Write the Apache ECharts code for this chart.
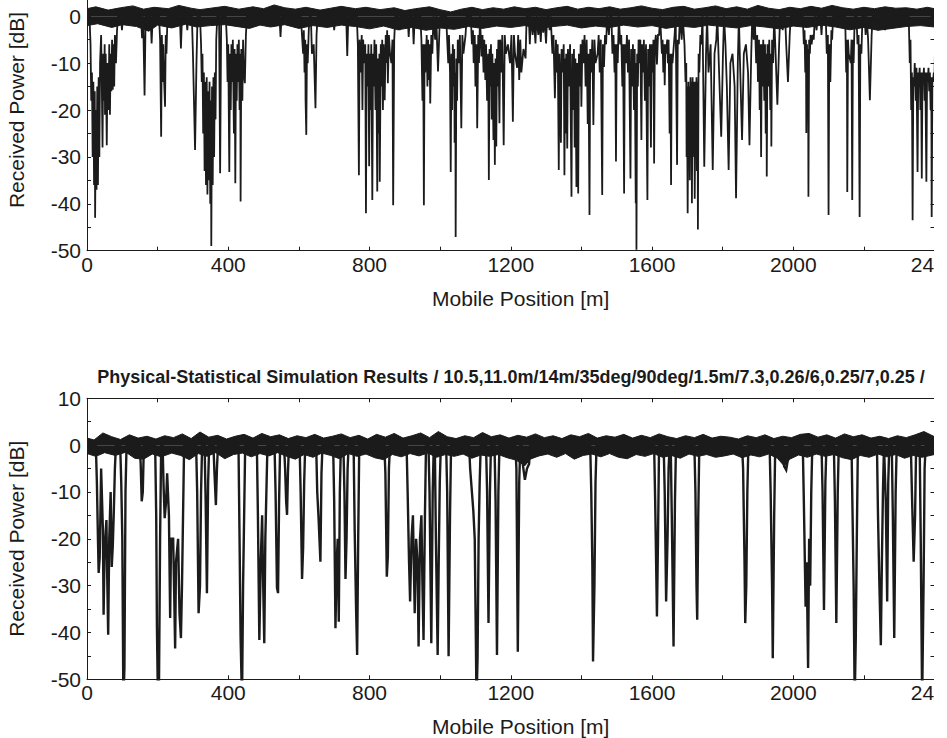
<!DOCTYPE html>
<html><head><meta charset="utf-8">
<script src="https://cdn.jsdelivr.net/npm/echarts@6/dist/echarts.min.js"></script>
<style>html,body{margin:0;padding:0;background:#fff}#c{width:947px;height:738px}</style>
</head><body><div id="c"></div>
<script>
// ---- text / ticks ----
const titleText = 'Physical-Statistical Simulation Results / 10.5,11.0m/14m/35deg/90deg/1.5m/7.3,0.26/6,0.25/7,0.25 /';
const xName = 'Mobile Position [m]';
const yName = 'Received Power [dB]';
const xLabelTicks = [0, 400, 800, 1200, 1600, 2000];
const xEdgeTick = 2400;          // shown cut short as "24", as in the reference
const xEdgeText = '24';
const yLabelTicksTop = [-50, -40, -30, -20, -10, 0];
const yLabelTicksBottom = [-50, -40, -30, -20, -10, 0, 10];

// ---- top panel (measured): band envelope and fades [position m, level dB] ----
const measBandTop = [[0,1.6],[25,2.0],[60,1.3],[95,1.8],[130,2.2],[160,1.5],[190,1.9],[230,1.6],[260,2.3],[295,1.7],[320,1.4],[370,1.9],[390,2.1],[430,1.5],[470,2.0],[500,1.6],[530,2.4],[560,1.8],[590,1.5],[620,1.9],[660,1.3],[690,1.7],[720,2.1],[760,1.6],[790,1.9],[830,1.4],[870,1.8],[900,1.2],[930,1.6],[970,2.0],[1000,1.4],[1030,0.9],[1060,1.5],[1090,1.9],[1120,1.4],[1150,1.8],[1180,1.5],[1210,2.0],[1240,1.6],[1270,1.9],[1300,1.4],[1330,1.8],[1360,2.1],[1390,1.5],[1420,1.9],[1450,1.6],[1480,2.0],[1510,1.5],[1540,1.8],[1570,2.2],[1600,1.7],[1630,1.4],[1660,1.9],[1690,2.1],[1720,1.5],[1750,1.8],[1780,2.2],[1810,1.6],[1840,2.0],[1870,1.5],[1900,2.3],[1930,1.7],[1960,1.4],[1990,1.9],[2020,1.6],[2050,2.1],[2080,1.7],[2110,2.3],[2140,1.8],[2170,1.5],[2200,1.9],[2230,1.6],[2260,2.0],[2290,1.7],[2320,1.8],[2350,1.5],[2380,1.9],[2400,1.6]];
const measBandBot = [[0,-2.0],[30,-1.6],[70,-2.4],[100,-1.8],[140,-2.2],[175,-3.2],[200,-1.9],[240,-2.5],[280,-1.7],[310,-2.3],[350,-2.0],[390,-1.8],[460,-2.6],[490,-1.9],[520,-2.3],[560,-1.8],[600,-2.6],[640,-2.0],[680,-2.4],[720,-1.9],[760,-2.2],[800,-2.7],[840,-2.1],[880,-2.9],[920,-2.4],[960,-3.0],[1000,-2.5],[1040,-2.8],[1080,-2.2],[1120,-2.6],[1160,-2.1],[1200,-2.4],[1240,-2.0],[1280,-2.6],[1320,-2.2],[1360,-1.9],[1400,-2.5],[1440,-2.1],[1480,-2.4],[1520,-1.9],[1560,-2.3],[1600,-2.0],[1640,-2.6],[1680,-2.1],[1720,-2.4],[1760,-1.9],[1800,-2.2],[1840,-2.5],[1880,-2.0],[1920,-2.3],[1960,-2.7],[2000,-2.1],[2040,-2.4],[2080,-1.9],[2120,-2.3],[2160,-2.9],[2200,-2.4],[2240,-3.0],[2280,-2.6],[2320,-2.2],[2360,-2.0],[2400,-2.3]];
const measFades = [
[10,-6],[12,-18],[14,-12],[16,-30],[18,-14],[20,-36],[22,-16],[23,-43],[25,-20],[27,-37],[29,-15],[31,-36],[33,-13],[35,-30],[37,-10],
[40,-4],[42,-15],[44,-28],[46,-8],[48,-18],[50,-6],[51,-21],[53,-8],[56,-27.5],[58,-10],[61,-20],[63,-6],[65,-21],[67,-8],[69,-16],[71,-5],[73,-15.7],[75,-6],[77,-15],[79,-4],[82,-10],[85,-3],
[99,-3],[156,-4.7],[163,-16.9],[183,-5.8],
[207,-5],[210,-25.7],[212,-4],[214,-14],[216,-6],[218,-13],[221,-19.3],[223,-4],[225,-8],
[266,-6.9],[284,-3],[300,-8],[306,-28.5],[310,-10],
[323,-6],[325,-14],[327,-8],[329,-25],[331,-12],[333,-33],[335,-14],[337,-36],[339,-13],[341,-38],[343,-16],[345,-35],[347,-14],[349,-40],[351,-18],[352,-49],[354,-15],[356,-36],[358,-13],[360,-30],[362,-12],[364,-22],[366,-5],
[377,-33.5],
[396,-5],[398,-14],[400,-6],[402,-25],[403,-33.2],[405,-8],[407,-20],[409,-6],[411,-14],[413,-5],[416,-25],[418,-7],[420,-35.6],[422,-8],[424,-18],[426,-6],[428,-14],[430,-5],[432,-20],[434,-8],[435,-39.5],[437,-7],[440,-18],[442,-5],[444,-12],[447,-14.3],[450,-4],
[548,-4.4],
[608,-3],[612,-8],[614,-3],[616,-12],[618,-5],[619,-18],[621,-25.3],[623,-6],[625,-10],[628,-3],[637,-8],[642,-6],[647,-19.6],[650,-4],
[700,-3],[737,-8.5],
[767,-6],[770,-33.9],[772,-5],[775,-12],[778,-4],[780,-20],[782,-5],[785,-10],[788,-6],[790,-42],[792,-8],[795,-15],[797,-6],[799,-32],[801,-8],[803,-20],[805,-6],[808,-39.2],[810,-8],[812,-15],[814,-5],[817,-20],[819,-6],[822,-37.4],[824,-9],[826,-25],[828,-8],[829,-35.3],[832,-6],[834,-15],[836,-5],[838,-20],[840,-6],[843,-17.9],[846,-4],[848,-10],[850,-3],[852,-14.3],[855,-4],[858,-8],[862,-10],[865,-5],[867,-40.3],[870,-5],
[885,-3],[911,-4.4],[925,-6],
[947,-5],[950,-18],[952,-6],[954,-40.3],[956,-6],[958,-12],[962,-4],[964,-15],[966,-5],[968,-13.6],[970,-6],[972,-18.6],[975,-4],[978,-8],[986,-5],[994,-11.8],[998,-3],
[1020,-5],[1023,-10],[1025,-4],[1028,-12],[1030,-33.2],[1032,-8],[1034,-20],[1036,-6],[1038,-15],[1040,-7],[1041,-27],[1043,-12],[1044,-47.1],[1046,-9],[1048,-18],[1050,-5],[1053,-10],[1056,-4],[1060,-23.9],[1063,-4],[1066,-8],[1072,-4],
[1090,-6],[1093,-3],[1095,-10],[1098,-4],[1100,-15],[1103,-6],[1105,-23.9],[1108,-4],[1110,-10],[1117,-8.6],[1120,-4],[1123,-12],[1125,-5],[1128,-13.6],[1130,-6],[1133,-18],[1136,-8],[1138,-34.9],[1140,-7],[1142,-15],[1144,-6],[1146,-22],[1148,-8],[1151,-26.4],[1153,-10],[1155,-31.7],[1157,-9],[1159,-27.8],[1161,-7],[1163,-15],[1165,-5],[1168,-22.8],[1170,-5],[1173,-12],[1176,-4],[1180,-27.5],[1183,-4],[1186,-8],[1192,-6],[1198,-10],[1202,-4],[1206,-22.5],[1209,-4],[1212,-8],[1218,-11],[1221,-4],[1224,-13.6],[1227,-5],[1230,-12],[1236,-7],[1242,-9],[1254,-6],[1262,-4],[1270,-5.8],[1278,-4],[1285,-5.5],[1292,-3.5],[1300,-5.8],[1310,-3],
[1318,-8],[1321,-4],[1325,-17.5],[1328,-5],[1330,-12],[1333,-6],[1336,-32.8],[1338,-8],[1340,-15],[1342,-27],[1344,-7],[1347,-12],[1350,-6],[1352,-33.9],[1354,-9],[1355,-25],[1357,-8],[1360,-28.2],[1362,-7],[1365,-15],[1368,-6],[1372,-38.5],[1374,-8],[1377,-20],[1379,-7],[1381,-28],[1383,-9],[1386,-36.4],[1388,-10],[1391,-37.8],[1393,-8],[1396,-15],[1398,-6],[1400,-19.3],[1403,-5],[1406,-10],[1409,-4],[1412,-15],[1415,-5],[1418,-23],[1420,-8],[1423,-42.4],[1425,-7],[1428,-12],[1431,-5],[1434,-23.2],[1437,-5],[1440,-10],[1446,-8],[1449,-4],[1452,-12],[1455,-5],[1459,-38.1],[1461,-6],[1464,-10.8],[1467,-4],[1470,-6],[1478,-4],[1488,-8],[1491,-4],[1494,-12],[1496,-6],[1498,-31],[1500,-6],[1503,-10],[1510,-6],[1513,-4],[1516,-15],[1518,-6],[1521,-37.8],[1523,-6],[1526,-10],[1529,-4],[1532,-12],[1535,-5],[1539,-34.6],[1541,-7],[1544,-15],[1546,-6],[1549,-20],[1551,-7],[1554,-39.9],[1555,-10],[1556,-49.8],[1558,-8],[1560,-15],[1562,-5],[1565,-10],[1567,-5],[1570,-26.4],[1572,-6],[1575,-12],[1577,-5],[1580,-18],[1583,-6],[1587,-39.2],[1589,-7],[1592,-15],[1594,-6],[1597,-28],[1599,-6],
[1602,-12],[1604,-5],[1606,-31.4],[1608,-6],[1611,-4],[1614,-10.3],[1617,-4],[1620,-4],[1628,-8],[1630,-5],[1632,-12],[1634,-6],[1636,-14.7],[1638,-6],[1640,-8],[1643,-5],[1645,-10],[1647,-5],[1650,-25],[1652,-8],[1654,-36],[1656,-8],[1658,-10],[1664,-4],[1671,-31.7],[1673,-5],[1676,-6],[1684,-5],[1692,-6],[1695,-14],[1697,-10],[1698,-30],[1699,-15],[1701,-42],[1703,-14],[1704,-25],[1706,-15],[1707,-35],[1709,-13],[1710,-20],[1712,-14],[1713,-39.9],[1715,-13],[1716,-28],[1718,-14],[1719,-30],[1720,-15],[1721,-38.9],[1723,-14],[1724,-22],[1726,-13],[1727,-33],[1729,-14],[1730,-45.5],[1732,-8],[1734,-12],[1737,-4],[1740,-6],
[1748,-32.1],[1753,-8],[1760,-12],[1766,-6],[1772,-32.8],[1777,-8],[1782,-5],[1790,-12],[1796,-25.7],[1801,-8],[1808,-6],[1812,-15],[1817,-32.8],[1822,-10],[1828,-8],[1834,-15],[1838,-38.8],[1843,-10],[1850,-12],[1855,-26.4],[1860,-8],[1866,-6],[1872,-12],[1876,-27.5],[1881,-8],[1888,-5],[1895,-10],[1898,-4],[1900,-14],[1903,-5],[1905,-20],[1907,-6],[1909,-30],[1911,-6],[1913,-15],[1915,-5],[1918,-18],[1920,-6],[1922,-25],[1924,-8],[1925,-34.2],[1927,-6],[1930,-15],[1932,-5],[1935,-20],[1937,-8],[1938,-27.8],[1940,-5],[1943,-10],[1950,-8],[1955,-18.9],[1960,-6],[1970,-3],[1980,-6],[1985,-14],[1990,-4],
[2030,-6],[2032,-3],[2034,-12],[2036,-5],[2037,-24.9],[2039,-6],[2040,-15],[2042,-7],[2043,-38.5],[2045,-5],[2047,-8],[2049,-4],[2052,-6],[2055,-4],[2058,-5],[2066,-3],[2080,-4],[2095,-8],[2098,-4],[2100,-42.4],[2102,-6],[2105,-14],[2108,-3],[2110,-5],
[2150,-12],[2152,-5],[2153,-37.5],[2155,-5],[2157,-8],[2163,-10],[2165,-5],[2167,-39.2],[2169,-5],[2171,-10],[2182,-6],[2185,-4],[2188,-42.8],[2190,-6],[2193,-8],[2205,-4],[2212,-5],[2217,-17.9],[2222,-4],[2240,-3],[2260,-3],
[2330,-10],[2332,-5],[2334,-20],[2336,-12],[2338,-43.5],[2340,-13],[2342,-15],[2344,-10],[2347,-18],[2349,-11],[2352,-33.2],[2354,-12],[2356,-14],[2358,-11],[2360,-20],[2362,-12],[2364,-34.6],[2366,-12],[2368,-14],[2370,-11],[2372,-18],[2374,-12],[2377,-35.3],[2379,-12],[2381,-14],[2383,-11],[2385,-16],[2387,-12],[2389,-20],[2391,-13],[2392,-42.8],[2394,-13],[2396,-14],[2398,-12],[2400,-13]
];

// ---- bottom panel (simulation): band envelope and fades [position m, level dB] ----
const simBandTop = [[0,1.5],[20,1.1],[45,2.6],[70,1.8],[95,1.2],[120,2.2],[145,1.5],[170,1.9],[195,1.3],[220,2.0],[245,1.6],[270,2.4],[295,1.4],[320,2.8],[345,1.7],[370,2.1],[395,1.3],[420,1.9],[445,2.3],[470,1.5],[495,2.5],[520,1.8],[545,2.2],[570,1.4],[595,2.0],[620,1.6],[645,2.3],[670,1.5],[695,1.9],[720,2.4],[745,1.6],[770,2.1],[795,1.3],[820,2.3],[845,1.7],[870,2.5],[895,1.5],[920,2.0],[945,2.6],[970,1.6],[995,2.9],[1020,1.8],[1045,1.4],[1070,2.0],[1095,1.6],[1120,2.7],[1145,1.8],[1170,2.2],[1195,1.5],[1220,2.1],[1245,1.7],[1270,2.4],[1295,1.6],[1320,2.0],[1345,1.4],[1370,2.2],[1395,1.8],[1420,2.5],[1445,1.5],[1470,2.0],[1495,1.7],[1520,2.3],[1545,1.5],[1570,2.1],[1595,1.6],[1620,2.4],[1645,1.8],[1670,1.4],[1695,2.0],[1720,1.6],[1745,2.3],[1770,1.5],[1795,1.9],[1820,1.7],[1845,1.3],[1870,2.0],[1895,1.6],[1920,2.2],[1945,1.4],[1970,1.9],[1995,1.6],[2020,2.3],[2045,2.5],[2070,1.7],[2095,2.2],[2120,1.5],[2145,2.4],[2170,1.8],[2195,2.2],[2220,1.5],[2245,1.9],[2270,1.4],[2295,2.0],[2320,1.6],[2345,2.2],[2370,2.9],[2400,1.8]];
const simBandBot = [[0,-1.8],[25,-2.4],[50,-1.6],[80,-2.2],[110,-1.5],[135,-2.8],[160,-3.0],[185,-1.9],[210,-2.5],[240,-1.7],[265,-2.2],[290,-3.1],[315,-1.8],[340,-2.4],[365,-1.6],[390,-2.9],[415,-2.0],[440,-1.7],[465,-2.5],[490,-1.8],[515,-2.3],[540,-1.6],[565,-2.4],[590,-3.0],[615,-2.0],[640,-2.6],[665,-1.7],[690,-2.2],[715,-2.9],[740,-1.8],[765,-2.4],[790,-1.9],[815,-2.7],[840,-3.1],[865,-2.0],[890,-2.5],[915,-1.8],[940,-2.3],[965,-1.7],[990,-2.6],[1015,-2.0],[1040,-2.4],[1065,-1.9],[1090,-2.8],[1115,-2.1],[1140,-2.4],[1165,-2.0],[1190,-2.7],[1215,-3.2],[1240,-4.4],[1255,-3.0],[1280,-2.3],[1305,-1.9],[1330,-2.6],[1355,-1.8],[1380,-3.0],[1405,-2.2],[1430,-1.9],[1455,-2.5],[1480,-1.8],[1505,-2.6],[1530,-2.9],[1555,-2.0],[1580,-2.4],[1605,-1.8],[1630,-2.6],[1655,-2.2],[1680,-2.8],[1705,-1.9],[1730,-2.4],[1755,-2.0],[1780,-2.6],[1805,-2.3],[1830,-1.9],[1855,-2.7],[1880,-2.1],[1905,-2.5],[1930,-1.9],[1955,-2.8],[1975,-4.5],[1990,-3.0],[2015,-2.1],[2040,-2.6],[2065,-1.9],[2090,-2.4],[2115,-2.0],[2140,-2.7],[2165,-3.1],[2190,-2.2],[2215,-2.6],[2240,-1.9],[2265,-2.5],[2290,-2.0],[2315,-2.8],[2340,-2.2],[2365,-2.6],[2400,-2.0]];
const simFades = [
[28,-8],[31,-20],[33,-27.3],[36,-24],[40,-5],[45,-18],[47,-36.2],[50,-22],[55,-16],[57,-27],[60,-40.5],[63,-20],[67,-10],[70,-26],[73,-21.6],[76,-14],[79,-5],
[97,-8],[100,-20],[103,-55],[106,-47.6],[109,-10],
[152,-4],[155,-12],[158,-10],
[196,-15],[198,-38.7],[201,-55],[204,-50],[207,-20],
[217,-9],[220,-15.6],[224,-12],[227,-6],[232,-15],[235.5,-36.9],[238,-20],[244,-20],[247,-32],[249.6,-43.4],[252,-25],[258,-20],[262,-36],[266,-41.2],[269,-30],[272,-15],
[312,-10],[316,-35.9],[320,-30],[323,-10],[336,-12],[339.6,-31.6],[343,-8],[361,-6],[365,-12.8],[368,-5],
[432,-20],[435,-41.2],[439,-55],[442,-30],[445,-15],
[484,-15],[488,-41.6],[492,-25],[496,-15],[499,-30],[502,-42.3],[505,-20],[508,-10],
[534,-10],[538,-30.5],[541,-31.6],[544,-12],[561,-5],[564,-12],[566.5,-14.9],[569,-6],
[605,-10],[609,-28.6],[612,-22],[615,-8],[652,-10],[656,-16],[661,-24.9],[664,-6],
[700,-12],[703.6,-39.1],[707,-25],[710,-20],[713,-37.7],[716,-10],[729,-10],[732,-28.6],[735,-20],[738,-5],
[758,-18],[762,-35],[765,-44.8],[768,-20],
[845,-6],[849,-28.1],[852,-23.7],[855,-5],
[908,-10],[912,-25],[915,-33.4],[919,-20],[923,-15],[928,-35.9],[932,-20],[936,-25],[939,-43],[943,-20],[947,-15],[950,-30],[953,-41.6],[957,-15],
[970,-10],[975,-42.3],[979,-10],[988,-20],[993,-44.8],[996,-25],[999,-8],[1020,-10],[1024,-45.1],[1028,-15],
[1085,-5],[1090,-10],[1094,-14],[1098,-20],[1101,-40],[1103,-55],[1106,-45.5],[1109,-20],[1112,-8],
[1133,-10],[1137,-38],[1141,-10],[1157,-12],[1161,-44.8],[1165,-10],[1216,-5],[1220,-44.1],[1224,-8],
[1234,-4],[1240,-7.4],[1246,-5],[1252,-4],
[1428,-10],[1431,-25],[1433,-46.2],[1437,-30],[1440,-8],
[1609,-12],[1614,-36.6],[1617,-20],[1636,-10],[1640,-33.4],[1644,-20],[1647,-5],[1656,-15],[1661,-43],[1665,-12],
[1723,-10],[1726,-30],[1728,-37.3],[1731,-15],[1858,-5],[1862,-25],[1864,-38],[1867,-30],[1870,-10],
[1936,-10],[1940,-30],[1942,-45.5],[1946,-15],[1974,-4.5],[1980,-5.3],[1985,-3],
[2030,-12],[2035,-34.5],[2038,-25],[2042,-47.6],[2045,-20],[2048,-30],[2051,-10],
[2083,-10],[2087,-35.2],[2091,-8],[2118,-12],[2122,-38],[2126,-10],
[2168,-15],[2171,-30],[2174,-55],[2177,-41.6],[2180,-20],
[2240,-15],[2244,-30],[2248,-42.7],[2251,-25],[2254,-10],[2262,-12],[2266,-33.4],[2269,-8],[2282,-15],[2286,-41.2],[2290,-10],
[2336,-10],[2341,-24.9],[2345,-15],[2361,-20],[2365,-55],[2369,-30],[2372,-5]
];

// ---- build the signal polyline from the fade list (dips leave and rejoin the band) ----
function buildSignal(fades, halfSpan, base) {
  const f = fades.slice().sort((a, b) => a[0] - b[0]);
  const pts = [[0, base]];
  for (let i = 0; i < f.length; i++) {
    const x = f[i][0], d = f[i][1];
    const prev = i > 0 ? f[i - 1][0] : -1e9;
    const next = i < f.length - 1 ? f[i + 1][0] : 1e9;
    if (x - prev > 2 * halfSpan) pts.push([x - halfSpan, base]);
    pts.push([x, d]);
    if (next - x > 2 * halfSpan) pts.push([x + halfSpan, base]);
  }
  pts.push([2400, base]);
  return pts;
}

const INK = '#1b1b1b';
const FONT = '"Liberation Sans", Arial, Helvetica, sans-serif';

function xAxes(gi, showTop) {
  const common = {
    type: 'value', gridIndex: gi, min: 0, max: 2400, interval: 200,
    splitLine: { show: false },
    axisLine: { show: true, onZero: false, lineStyle: { color: INK, width: 1 } },
    axisTick: { show: true, inside: true, length: 4, lineStyle: { color: INK, width: 1 } }
  };
  return [
    Object.assign({}, common, {
      position: 'bottom',
      axisLabel: { show: true, margin: 3, fontSize: 21, color: INK, fontFamily: FONT, hideOverlap: false,
        formatter: v => (v === xEdgeTick ? '{edge|' + xEdgeText + '}' : (xLabelTicks.indexOf(v) >= 0 ? String(v) : '')),
        rich: { edge: { fontSize: 21, color: INK, fontFamily: FONT, padding: [0, 24, 0, 0] } } },
      name: xName, nameLocation: 'middle', nameGap: 37,
      nameTextStyle: { fontSize: 21, color: INK, fontFamily: FONT, padding: [0, 0, 0, 20] }
    }),
    Object.assign({}, common, { position: 'top', axisLabel: { show: false },
      axisLine: { show: showTop, onZero: false, lineStyle: { color: INK, width: 1 } },
      axisTick: { show: showTop, inside: true, length: 4, lineStyle: { color: INK, width: 1 } } })
  ];
}
function yAxes(gi, labelTicks) {
  const common = {
    type: 'value', gridIndex: gi, min: -50, max: 10, interval: 5,
    splitLine: { show: false },
    axisLine: { show: true, onZero: false, lineStyle: { color: INK, width: 1 } },
    axisTick: { show: true, inside: true, length: 4, lineStyle: { color: INK, width: 1 } }
  };
  return [
    Object.assign({}, common, {
      position: 'left',
      axisLabel: { show: true, margin: 6, fontSize: 21, color: INK, fontFamily: FONT,
        formatter: v => (labelTicks.indexOf(v) >= 0 ? String(v) : '') },
      name: yName, nameLocation: 'middle', nameGap: 60,
      nameTextStyle: { fontSize: 21, color: INK, fontFamily: FONT }
    }),
    Object.assign({}, common, { position: 'right', axisLabel: { show: false } })
  ];
}
function panelSeries(xi, yi, top, bot, fades, lw) {
  const band = d => ({
    type: 'line', xAxisIndex: xi, yAxisIndex: yi, data: d, symbol: 'none', silent: true,
    lineStyle: { color: INK, width: 1 }, areaStyle: { color: INK, opacity: 1, origin: 'auto' },
    z: 2, animation: false
  });
  return [band(top), band(bot), {
    type: 'line', xAxisIndex: xi, yAxisIndex: yi, data: buildSignal(fades, 3, 0),
    symbol: 'none', silent: true, clip: true,
    lineStyle: { color: INK, width: lw, join: 'miter', miterLimit: 4 }, z: 3, animation: false
  }];
}

const chart = echarts.init(document.getElementById('c'), null, { renderer: 'svg', width: 947, height: 738 });
chart.setOption({
  animation: false,
  backgroundColor: '#fff',
  grid: [
    { left: 87, top: -30.7, width: 847.5, height: 281.4, outerBoundsMode: 'none', containLabel: false },
    { left: 87, top: 398.3, width: 847.5, height: 281, outerBoundsMode: 'none', containLabel: false }
  ],
  xAxis: [].concat(xAxes(0, false), xAxes(1, true)),
  yAxis: [].concat(yAxes(0, yLabelTicksTop), yAxes(1, yLabelTicksBottom)),
  series: [].concat(
    panelSeries(0, 0, measBandTop, measBandBot, measFades, 1.8),
    panelSeries(2, 2, simBandTop, simBandBot, simFades, 2.4)
  ),
  graphic: [
    { type: 'text', x: 511, y: 377, z: 50,
      style: { text: titleText, font: 'bold 18px ' + FONT, fill: INK, textAlign: 'center', textVerticalAlign: 'middle' } },
    { type: 'rect', x: 934, y: 0, z: 100, shape: { width: 13, height: 738 }, style: { fill: '#fff' } }
  ]
});
</script></body></html>
